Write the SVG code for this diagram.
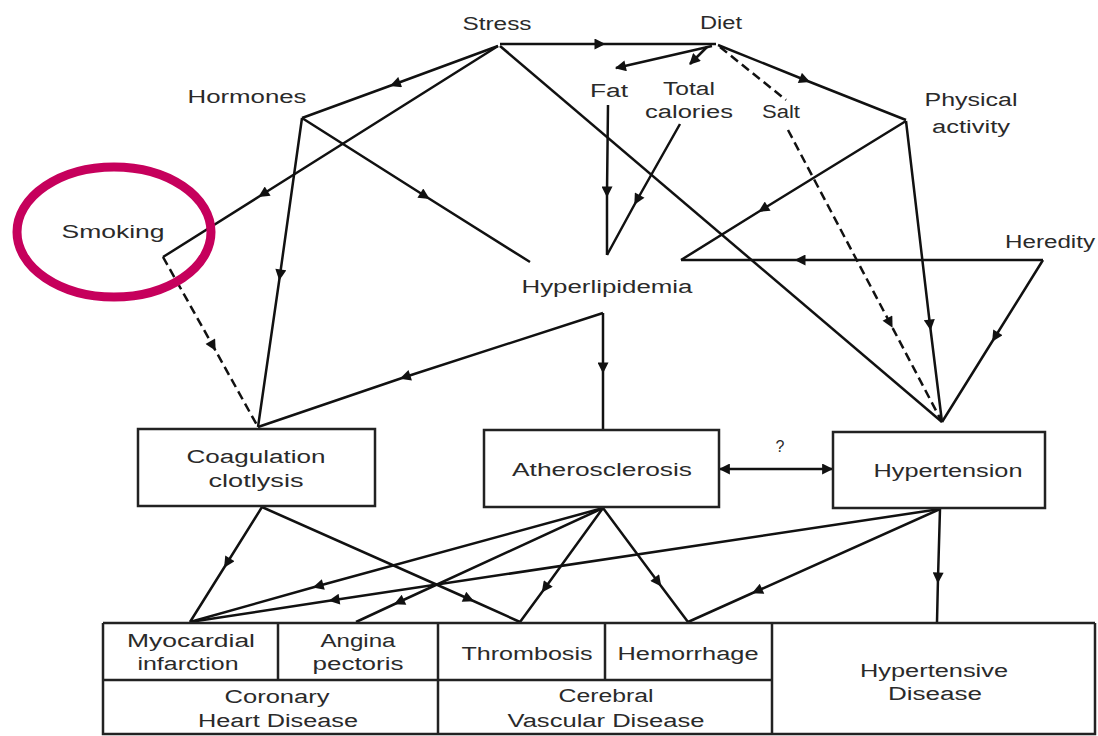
<svg xmlns="http://www.w3.org/2000/svg" width="1098" height="736" viewBox="0 0 1098 736">
<defs>
<marker id="ah" viewBox="0 0 10 10" refX="5" refY="5" markerUnits="userSpaceOnUse" markerWidth="13" markerHeight="11" orient="auto">
<path d="M0,0 L10,5 L0,10 z" fill="#111"/>
</marker>
<marker id="ae" viewBox="0 0 10 10" refX="9" refY="5" markerUnits="userSpaceOnUse" markerWidth="13" markerHeight="11" orient="auto-start-reverse">
<path d="M0,0 L10,5 L0,10 z" fill="#111"/>
</marker>
<style>
.c{fill:none;stroke:#111;stroke-width:2.5;stroke-linejoin:miter}
.m{marker-mid:url(#ah)}
.d{stroke-dasharray:9 5}
.b{fill:none;stroke:#222;stroke-width:2.5}
text{font-family:"Liberation Sans",Arial,sans-serif;font-size:18px;fill:#2a2a2a;text-anchor:middle}
</style>
</defs>
<rect width="1098" height="736" fill="#fff"/>

<g id="connectors">
<path class="c m" d="M500,44 L600,44 L716,44"/>
<path class="c m" d="M498,46 L395,84 L302,118"/>
<path class="c m" d="M498,46 L263,194 L163,257"/>
<path class="c m d" d="M163,257 L213,346 L258,427"/>
<path class="c m" d="M302,118 L280,275 L258,427"/>
<path class="c m" d="M302,118 L425,196 L530,262"/>
<path class="c" d="M712,46 L616,68" marker-end="url(#ae)"/>
<path class="c" d="M707,47 L690,64" marker-end="url(#ae)"/>
<path class="c d" d="M720,47 L786,100"/>
<path class="c m" d="M718,45 L805,80 L906,120"/>
<path class="c m" d="M608,105 L607,192 L607,255"/>
<path class="c m" d="M680,124 L637,200 L607,255"/>
<path class="c m d" d="M788,130 L890,323 L942,422"/>
<path class="c" d="M500,46 L942,422"/>
<path class="c m" d="M906,121 L930,325 L942,422"/>
<path class="c m" d="M906,121 L763,209 L681,260"/>
<path class="c m" d="M1043,260 L800,260 L681,260"/>
<path class="c m" d="M1043,260 L995,337 L942,422"/>
<path class="c m" d="M603,313 L405,377 L258,427"/>
<path class="c m" d="M603,313 L603,368 L603,430"/>
<path class="c" d="M720,469 L832,469" marker-start="url(#ae)" marker-end="url(#ae)"/>
<path class="c m" d="M262,507 L227,563 L190,622"/>
<path class="c m" d="M262,507 L469,599 L520,622"/>
<path class="c m" d="M603,508 L318,586 L190,622"/>
<path class="c m" d="M603,508 L399,602 L356,622"/>
<path class="c m" d="M603,508 L545,588 L520,622"/>
<path class="c m" d="M603,508 L658,582 L688,622"/>
<path class="c m" d="M940,509 L334,600 L190,622"/>
<path class="c m" d="M940,509 L757,591 L688,622"/>
<path class="c m" d="M940,509 L938,578 L937,622"/>
</g>

<g id="stress"><text x="497" y="30" textLength="69" lengthAdjust="spacingAndGlyphs">Stress</text></g>
<g id="diet"><text x="721" y="29" textLength="42" lengthAdjust="spacingAndGlyphs">Diet</text></g>
<g id="hormones"><text x="247" y="103" textLength="119" lengthAdjust="spacingAndGlyphs">Hormones</text></g>
<g id="fat"><text x="609" y="97" textLength="38" lengthAdjust="spacingAndGlyphs">Fat</text></g>
<g id="total-calories">
<text x="689" y="95" textLength="52" lengthAdjust="spacingAndGlyphs">Total</text>
<text x="689" y="118" textLength="88" lengthAdjust="spacingAndGlyphs">calories</text>
</g>
<g id="salt"><text x="781" y="118" textLength="38" lengthAdjust="spacingAndGlyphs">Salt</text></g>
<g id="physical-activity">
<text x="971" y="106" textLength="93" lengthAdjust="spacingAndGlyphs">Physical</text>
<text x="971" y="133" textLength="78" lengthAdjust="spacingAndGlyphs">activity</text>
</g>
<g id="heredity"><text x="1050" y="248" textLength="90" lengthAdjust="spacingAndGlyphs">Heredity</text></g>
<g id="smoking">
<text x="113" y="238" textLength="103" lengthAdjust="spacingAndGlyphs">Smoking</text>
<ellipse cx="114" cy="232" rx="97" ry="65" fill="none" stroke="#C6005C" stroke-width="9"/>
</g>
<g id="hyperlipidemia"><text x="607" y="293" textLength="171" lengthAdjust="spacingAndGlyphs">Hyperlipidemia</text></g>

<g id="coagulation">
<rect class="b" x="138" y="429" width="237" height="77"/>
<text x="256" y="463" textLength="139" lengthAdjust="spacingAndGlyphs">Coagulation</text>
<text x="256" y="487" textLength="95" lengthAdjust="spacingAndGlyphs">clotlysis</text>
</g>
<g id="atherosclerosis">
<rect class="b" x="484" y="430" width="235" height="77"/>
<text x="602" y="476" textLength="180" lengthAdjust="spacingAndGlyphs">Atherosclerosis</text>
</g>
<g id="hypertension">
<rect class="b" x="833" y="432" width="212" height="76"/>
<text x="948" y="477" textLength="149" lengthAdjust="spacingAndGlyphs">Hypertension</text>
</g>
<g id="label-q"><text x="780" y="452" style="font-size:16px">?</text></g>

<g id="table">
<path class="b" d="M103,623 L1095,623 M103,623 L103,734 L1095,734 L1095,623 M103,680 L772,680 M278,623 L278,680 M438,623 L438,734 M605,623 L605,680 M772,623 L772,734"/>
</g>
<g id="myocardial-infarction">
<text x="191" y="647" textLength="128" lengthAdjust="spacingAndGlyphs">Myocardial</text>
<text x="188" y="670" textLength="101" lengthAdjust="spacingAndGlyphs">infarction</text>
</g>
<g id="angina-pectoris">
<text x="358" y="647" textLength="75" lengthAdjust="spacingAndGlyphs">Angina</text>
<text x="358" y="670" textLength="91" lengthAdjust="spacingAndGlyphs">pectoris</text>
</g>
<g id="thrombosis"><text x="527" y="660" textLength="131" lengthAdjust="spacingAndGlyphs">Thrombosis</text></g>
<g id="hemorrhage"><text x="688" y="660" textLength="141" lengthAdjust="spacingAndGlyphs">Hemorrhage</text></g>
<g id="coronary-heart-disease">
<text x="277" y="703" textLength="105" lengthAdjust="spacingAndGlyphs">Coronary</text>
<text x="278" y="727" textLength="160" lengthAdjust="spacingAndGlyphs">Heart Disease</text>
</g>
<g id="cerebral-vascular-disease">
<text x="606" y="702" textLength="95" lengthAdjust="spacingAndGlyphs">Cerebral</text>
<text x="606" y="727" textLength="197" lengthAdjust="spacingAndGlyphs">Vascular Disease</text>
</g>
<g id="hypertensive-disease">
<text x="934" y="677" textLength="148" lengthAdjust="spacingAndGlyphs">Hypertensive</text>
<text x="935" y="700" textLength="94" lengthAdjust="spacingAndGlyphs">Disease</text>
</g>
</svg>
